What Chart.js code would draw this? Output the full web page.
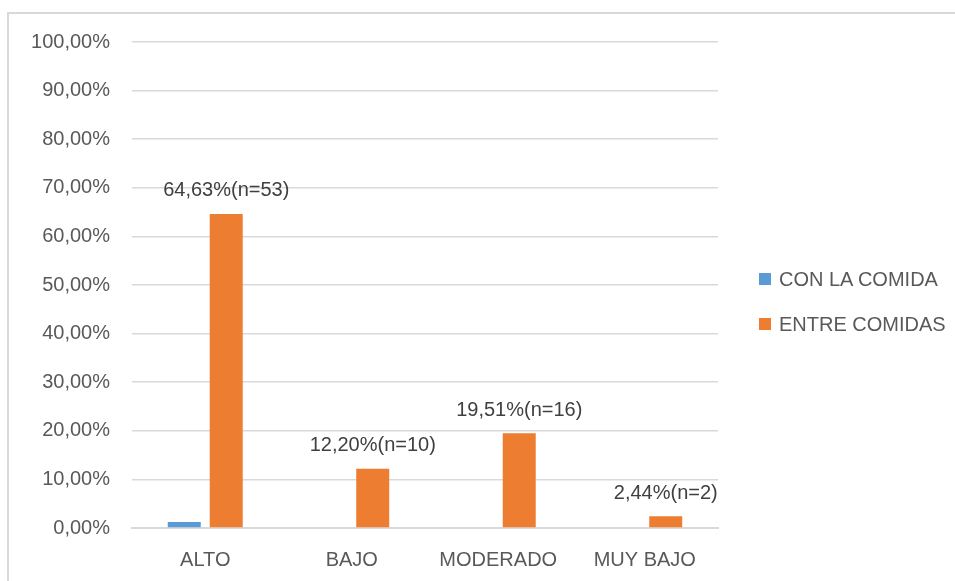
<!DOCTYPE html>
<html>
<head>
<meta charset="utf-8">
<script src="https://cdn.jsdelivr.net/npm/chart.js@4"></script>
<style>
    body { margin: 0; background: #fff; font-family: "Liberation Sans", Arial, sans-serif; }
    #wrap { position: relative; width: 955px; height: 581px; overflow: hidden; }
    #frame { position: absolute; left: 7px; top: 12px; width: 1000px; height: 1000px;
             border-top: 2px solid #d9d9d9; border-left: 2px solid #d9d9d9; pointer-events: none; }
    #legend { position: absolute; left: 759px; top: 266px; color: #595959; font-size: 20px; }
    #legend div { height: 45px; line-height: 26px; white-space: nowrap; }
    #legend span { display: inline-block; width: 12px; height: 12px; margin-right: 8px; vertical-align: 1px; }
</style>
</head>
<body>
<div id="wrap">
    <canvas id="chart" width="955" height="581"></canvas>
    <div id="frame"></div>
    <div id="legend"></div>
</div>
<script>
    const categories = ['ALTO', 'BAJO', 'MODERADO', 'MUY BAJO'];
    const seriesNames = ['CON LA COMIDA', 'ENTRE COMIDAS'];
    const conLaComida = [1.22, 0, 0, 0];
    const entreComidas = [64.63, 12.20, 19.51, 2.44];
    const entreCounts = [53, 10, 16, 2];
    const colors = ['#5b9bd5', '#ed7d31'];

    function pct(v) {
        return v.toFixed(2).replace('.', ',') + '%';
    }

    // Legend (html text)
    const legend = document.getElementById('legend');
    seriesNames.forEach((name, i) => {
        const row = document.createElement('div');
        row.innerHTML = '<span style="background:' + colors[i] + '"></span>' + name;
        legend.appendChild(row);
    });

    // Labels above the orange bars
    const barLabels = {
        id: 'barLabels',
        afterDatasetsDraw(chart) {
            const ctx = chart.ctx;
            const meta = chart.getDatasetMeta(1);
            ctx.save();
            ctx.font = '20px "Liberation Sans", Arial, sans-serif';
            ctx.fillStyle = '#404040';
            ctx.textAlign = 'center';
            ctx.textBaseline = 'bottom';
            meta.data.forEach((bar, i) => {
                const text = pct(entreComidas[i]) + '(n=' + entreCounts[i] + ')';
                ctx.fillText(text, bar.x, bar.y - 13);
            });
            ctx.restore();
        }
    };

    const ctx = document.getElementById('chart').getContext('2d');
    new Chart(ctx, {
        type: 'bar',
        data: {
            labels: categories,
            datasets: [{
                label: seriesNames[0],
                data: conLaComida,
                backgroundColor: colors[0],
                categoryPercentage: 0.573,
                barPercentage: 0.786
            }, {
                label: seriesNames[1],
                data: entreComidas,
                backgroundColor: colors[1],
                categoryPercentage: 0.573,
                barPercentage: 0.786
            }]
        },
        options: {
            responsive: false,
            animation: false,
            layout: { padding: { left: 0, right: 237, top: 42, bottom: 12 } },
            plugins: {
                legend: { display: false },
                tooltip: { enabled: false }
            },
            scales: {
                y: {
                    min: 0,
                    max: 100,
                    afterFit: (scale) => { scale.width = 132; },
                    ticks: {
                        stepSize: 10,
                        color: '#595959',
                        padding: 22,
                        font: { family: '"Liberation Sans", Arial, sans-serif', size: 20 },
                        callback: (v) => pct(v)
                    },
                    grid: { color: '#d9d9d9', lineWidth: 1.5, drawTicks: false },
                    border: { display: false }
                },
                x: {
                    afterFit: (scale) => { scale.height = 41; },
                    ticks: {
                        color: '#595959',
                        padding: 20,
                        font: { family: '"Liberation Sans", Arial, sans-serif', size: 20 }
                    },
                    grid: { display: false, drawTicks: false },
                    border: { color: '#d9d9d9', width: 2 }
                }
            }
        },
        plugins: [barLabels]
    });
</script>
</body>
</html>
